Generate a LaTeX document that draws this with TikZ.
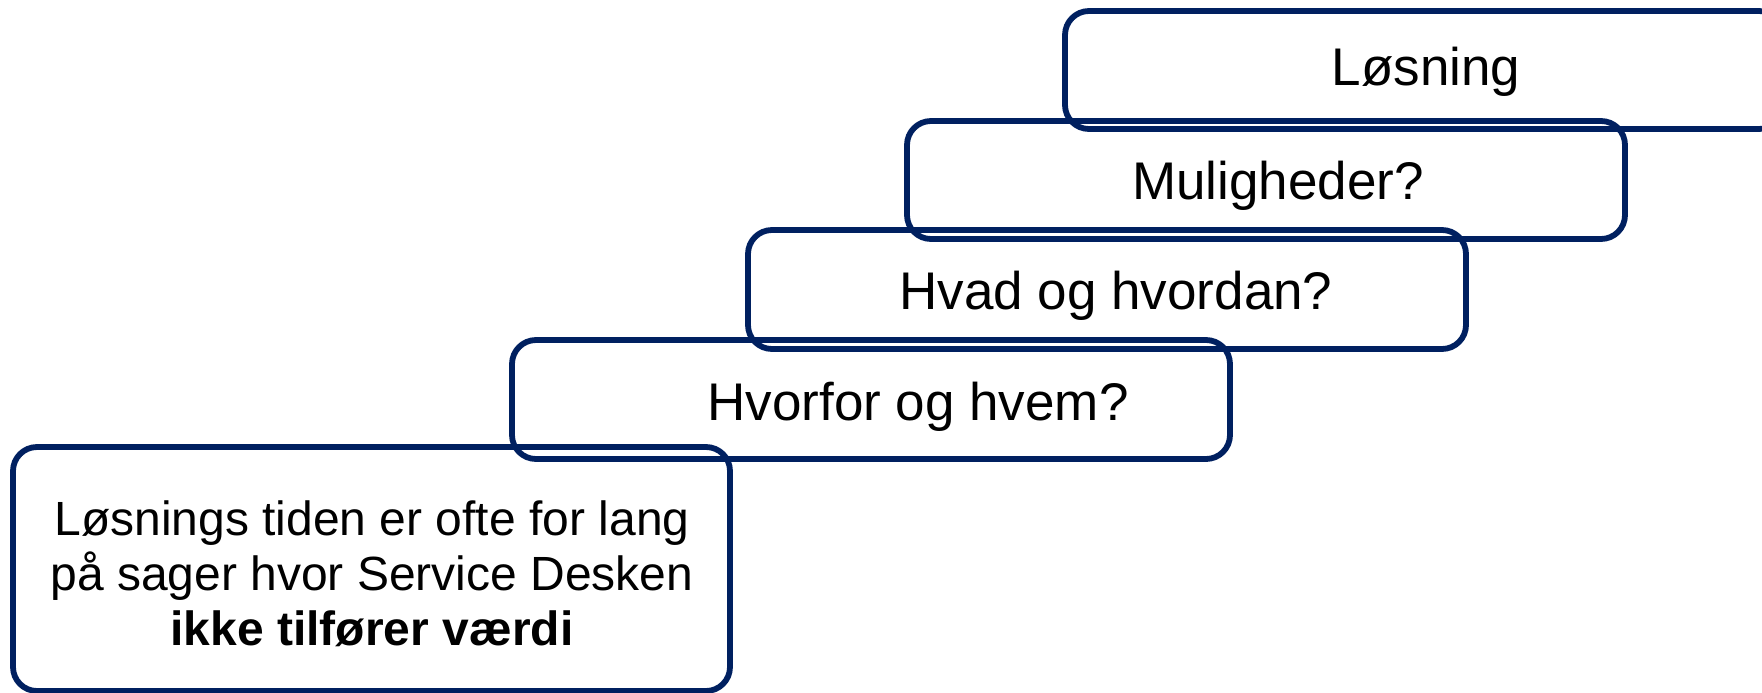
\documentclass[tikz,border=0pt]{standalone}
\usepackage{fontspec}
\setmainfont{Liberation Sans}
\definecolor{navy}{RGB}{0,32,96}
\begin{document}
\begin{tikzpicture}[x=0.5pt,y=-0.5pt,
  stepbox/.style={draw=navy, line width=2.9pt, rounded corners=12pt, rectangle, inner sep=0pt, minimum width=359pt},
  lbl/.style={inner sep=0pt, font=\fontsize{26.5}{30}\selectfont, text=black},
  body/.style={inner sep=0pt, font=\fontsize{24}{27.5}\selectfont, text=black, align=center}]
\useasboundingbox (0,0) rectangle (1762,692);
\clip (0,0) rectangle (1762,692);
% boxes
\node[stepbox, minimum height=59pt] (b5) at (1424,70) {};
\node[stepbox, minimum height=59pt] (b4) at (1266,180) {};
\node[stepbox, minimum height=59.5pt] (b3) at (1107,289.5) {};
\node[stepbox, minimum height=59.5pt] (b2) at (871,399.5) {};
\node[stepbox, minimum width=358.5pt, minimum height=122pt] (b1) at (371.5,569) {};
% labels
\node[lbl, anchor=base] (t5) at (1426,85) {Løsning};
\node[lbl, anchor=base] (t4) at (1278,199) {Muligheder?};
\node[lbl, anchor=base] (t3) at (1116,309) {Hvad og hvordan?};
\node[lbl, anchor=base] (t2) at (918,420) {Hvorfor og hvem?};
\node[body] (t1) at (372,574) {Løsnings tiden er ofte for lang\\på sager hvor Service Desken\\\textbf{ikke tilfører værdi}};
\end{tikzpicture}
\end{document}
